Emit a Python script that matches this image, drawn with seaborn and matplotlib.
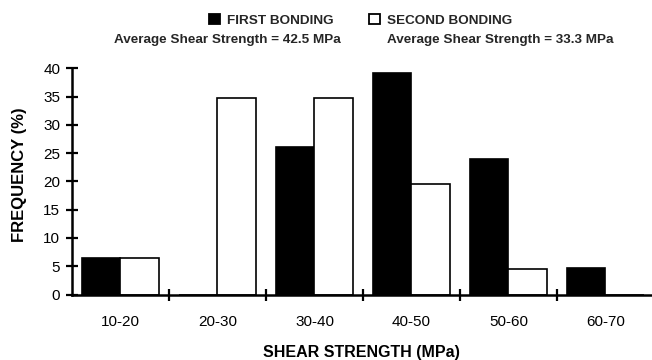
import matplotlib
matplotlib.use("Agg")
import matplotlib.pyplot as plt
from matplotlib.patches import Rectangle
import seaborn as sns
import pandas as pd

categories = ["10-20", "20-30", "30-40", "40-50", "50-60", "60-70"]
first_bonding = [6.4, 0.0, 26.1, 39.1, 23.9, 4.6]
second_bonding = [6.4, 34.8, 34.8, 19.6, 4.5, 0.0]
series_names = ["FIRST BONDING", "SECOND BONDING"]
averages = ["Average Shear Strength = 42.5 MPa", "Average Shear Strength = 33.3 MPa"]
y_ticks = [0, 5, 10, 15, 20, 25, 30, 35, 40]

sns.set_theme(style="white")
plt.rcParams["font.family"] = ["Liberation Sans", "DejaVu Sans"]

df = pd.DataFrame({
    "cat": categories * 2,
    "val": first_bonding + second_bonding,
    "series": [series_names[0]] * len(categories) + [series_names[1]] * len(categories),
})

W, H = 652, 360
fig = plt.figure(figsize=(W / 100, H / 100), dpi=100)
x0, x1 = 72, 651
y0, y1 = 294.5, 68.3
ax = fig.add_axes([x0 / W, 1 - y0 / H, (x1 - x0) / W, (y0 - y1) / H])

sns.barplot(data=df, x="cat", y="val", hue="series", order=categories,
            hue_order=series_names, palette=["black", "white"],
            edgecolor="black", linewidth=1.2, width=0.8, ax=ax, legend=False,
            saturation=1)

ax.set_xlim(-0.5, 5.47)
ax.set_ylim(0, 40)
ax.set_yticks(y_ticks)
ax.set_yticklabels([str(v) for v in y_ticks], fontsize=11)
ax.set_xticks(range(len(categories)))
ax.set_xticklabels(categories, fontsize=11)
ax.set_xticks([0.5, 1.5, 2.5, 3.5, 4.5], minor=True)
ax.tick_params(axis="x", which="major", bottom=True, length=0, pad=15, colors="black")
ax.tick_params(axis="x", which="minor", bottom=True, direction="inout", length=9,
               width=1.6, color="black")
ax.tick_params(axis="y", which="major", left=True, direction="inout", length=9,
               width=1.6, color="black", pad=4, labelcolor="black")
for s in ["top", "right"]:
    ax.spines[s].set_visible(False)
for s in ["left", "bottom"]:
    ax.spines[s].set_color("black")
    ax.spines[s].set_linewidth(1.8)

ax.set_xlabel("SHEAR STRENGTH (MPa)", fontsize=11.5, fontweight="bold", color="black",
              va="center")
ax.xaxis.set_label_coords(0.5, -(352 - y0) / (y0 - y1))
ax.set_ylabel("FREQUENCY (%)", fontsize=12, fontweight="bold", color="black", va="center")
ax.yaxis.set_label_coords(-(x0 - 20) / (x1 - x0), (y0 - 175) / (y0 - y1))

# legend drawn at the top of the figure
def px(x, y):
    return x / W, 1 - y / H

for (sx, fc) in [(209, "black"), (369, "white")]:
    fig.patches.append(Rectangle(px(sx, 24), 11 / W, 10 / H, facecolor=fc,
                                 edgecolor="black", linewidth=1.3,
                                 transform=fig.transFigure, figure=fig))
fs = 9.7
fig.text(*px(227, 20.5), series_names[0], fontsize=fs, fontweight="bold", va="center", ha="left")
fig.text(*px(387, 20.5), series_names[1], fontsize=fs, fontweight="bold", va="center", ha="left")
fig.text(*px(114, 39.5), averages[0], fontsize=fs, fontweight="bold", va="center", ha="left")
fig.text(*px(387, 39.5), averages[1], fontsize=fs, fontweight="bold", va="center", ha="left")

fig.savefig("out.png", dpi=100, facecolor="white")
